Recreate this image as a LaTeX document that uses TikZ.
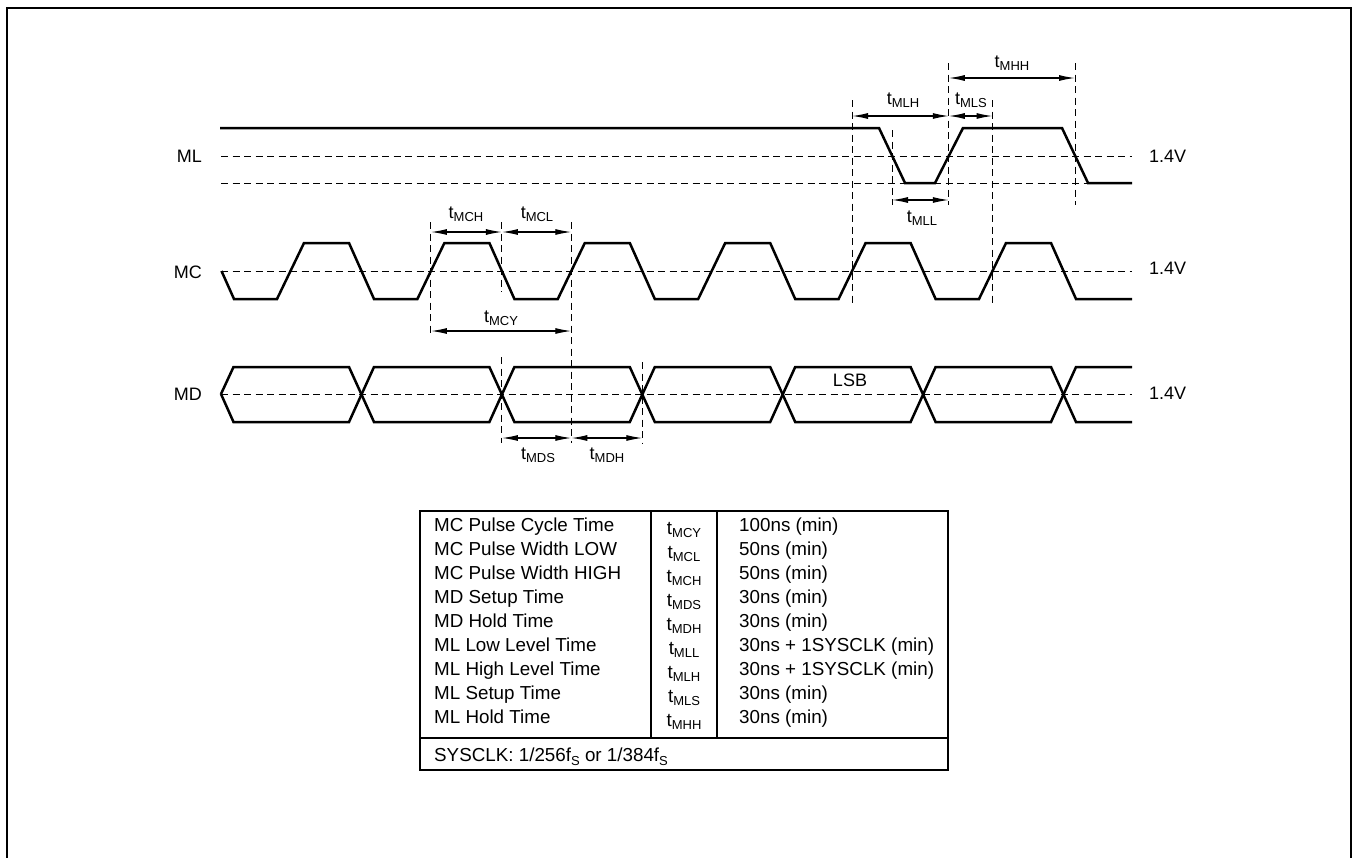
\documentclass[tikz,border=0pt]{standalone}
\usepackage{fontspec}
\setmainfont{Liberation Sans}
\usetikzlibrary{arrows.meta}
\newcommand\tlab[1]{t\raisebox{-3.5pt}{\fontsize{13}{13}\selectfont #1}}
\newcommand\fsub[1]{\raisebox{-3.5pt}{\fontsize{13}{13}\selectfont #1}}
\begin{document}
\begin{tikzpicture}[x=1pt,y=-1pt,
  wave/.style={line width=2.5pt,line join=miter},
  guide/.style={line width=0.9pt,dash pattern=on 7pt off 4.5pt},
  dim/.style={line width=1.2pt,{Latex[length=16pt,width=6pt]}-{Latex[length=16pt,width=6pt]}},
  lbl/.style={font=\fontsize{18}{18}\selectfont,inner sep=0pt},
  tbl/.style={font=\fontsize{18.8}{18.8}\selectfont,inner sep=0pt},
  framebox/.style={line width=2.8pt},
  tline/.style={line width=2.6pt},
  cline/.style={line width=1.6pt}]
\useasboundingbox (0,0) rectangle (1357,857);
% outer frame (open at the bottom)
\draw[framebox] (7,870) -- (7,8) -- (1351,8) -- (1351,870);

% horizontal reference levels
\foreach \yy in {156,183,271,394} \draw[guide] (221,\yy) -- (1132,\yy);

% vertical guides
\draw[guide] (430.9,222) -- (430.9,337);
\draw[guide] (501.9,222) -- (501.9,292);
\draw[guide] (501.9,357) -- (501.9,443);
\draw[guide] (571.3,222) -- (571.3,443);
\draw[guide] (642.3,362) -- (642.3,443);
\draw[guide] (852,100) -- (852,307);
\draw[guide] (892,130) -- (892,205);
\draw[guide] (948.8,63) -- (948.8,205);
\draw[guide] (992.5,100) -- (992.5,307);
\draw[guide] (1075,63) -- (1075,205);

% ML
\draw[wave] (220,128) -- (879,128) -- (905,183) -- (935,183) -- (963,128) -- (1062,128) -- (1088,183) -- (1132,183);
% MC
\draw[wave] (221.5,271) -- (234,299) -- (277,299) -- (304,243) -- (349,243) -- (374,299)
  -- (417.4,299) -- (444.4,243) -- (489.4,243) -- (514.4,299)
  -- (557.8,299) -- (584.8,243) -- (629.8,243) -- (654.8,299)
  -- (698.2,299) -- (725.2,243) -- (770.2,243) -- (795.2,299)
  -- (838.6,299) -- (865.6,243) -- (910.6,243) -- (935.6,299)
  -- (979,299) -- (1006,243) -- (1051,243) -- (1076,299) -- (1132,299);
% MD
\draw[wave] (221,394) -- (233.5,367) -- (349,367) -- (374,422) -- (489.4,422) -- (514.4,367)
  -- (629.8,367) -- (654.8,422) -- (770.2,422) -- (795.2,367) -- (910.6,367) -- (935.6,422)
  -- (1051,422) -- (1076,367) -- (1132,367);
\draw[wave] (221,394) -- (233.5,422) -- (349,422) -- (374,367) -- (489.4,367) -- (514.4,422)
  -- (629.8,422) -- (654.8,367) -- (770.2,367) -- (795.2,422) -- (910.6,422) -- (935.6,367)
  -- (1051,367) -- (1076,422) -- (1132,422);

% signal names and levels
\node[lbl,anchor=base east] (nML) at (202,162.5) {ML};
\node[lbl,anchor=base east] (nMC) at (202,278.5) {MC};
\node[lbl,anchor=base east] (nMD) at (202,400.5) {MD};
\node[lbl,anchor=base west] (v1) at (1149,162.5) {1.4V};
\node[lbl,anchor=base west] (v2) at (1149,274.5) {1.4V};
\node[lbl,anchor=base west] (v3) at (1149,399.5) {1.4V};
\node[lbl,anchor=base] (lsb) at (850,386.5) {LSB};

% dimension end points
\coordinate (mch1) at (430.9,232); \coordinate (mch2) at (501.9,232);
\coordinate (mcl2) at (571.3,232);
\coordinate (mcy1) at (430.9,331); \coordinate (mcy2) at (571.3,331);
\coordinate (mds1) at (501.9,438); \coordinate (mds2) at (571.3,438); \coordinate (mdh2) at (642.3,438);
\coordinate (mlh1) at (852,116); \coordinate (mlh2) at (948.8,116); \coordinate (mls2) at (992.5,116);
\coordinate (mhh1) at (948.8,78); \coordinate (mhh2) at (1075,78);
\coordinate (mll1) at (892,200); \coordinate (mll2) at (948.8,200);

\draw[dim] (mch1) -- (mch2);
\draw[dim] (mch2) -- (mcl2);
\draw[dim] (mcy1) -- (mcy2);
\draw[dim] (mds1) -- (mds2);
\draw[dim] (mds2) -- (mdh2);
\draw[dim] (mlh1) -- (mlh2);
\draw[dim] (mlh2) -- (mls2);
\draw[dim] (mhh1) -- (mhh2);
\draw[dim] (mll1) -- (mll2);

\node[lbl,anchor=base] (tMCH) at (466,218.3) {\tlab{MCH}};
\node[lbl,anchor=base] (tMCL) at (537,218.3) {\tlab{MCL}};
\node[lbl,anchor=base] (tMCY) at (501,322.3) {\tlab{MCY}};
\node[lbl,anchor=base] (tMDS) at (538,459.3) {\tlab{MDS}};
\node[lbl,anchor=base] (tMDH) at (607,459.3) {\tlab{MDH}};
\node[lbl,anchor=base] (tMLH) at (903,104.3) {\tlab{MLH}};
\node[lbl,anchor=base] (tMLS) at (971,104.3) {\tlab{MLS}};
\node[lbl,anchor=base] (tMHH) at (1012,67.3) {\tlab{MHH}};
\node[lbl,anchor=base] (tMLL) at (922,222.3) {\tlab{MLL}};

% table
\draw[tline] (420,511) rectangle (948,770);
\draw[tline] (420,738) -- (948,738);
\draw[cline] (651,511) -- (651,738);
\draw[cline] (717,511) -- (717,738);
\foreach \i/\a/\b/\c in {0/{MC Pulse Cycle Time}/MCY/{100ns (min)},
  1/{MC Pulse Width LOW}/MCL/{50ns (min)},
  2/{MC Pulse Width HIGH}/MCH/{50ns (min)},
  3/{MD Setup Time}/MDS/{30ns (min)},
  4/{MD Hold Time}/MDH/{30ns (min)},
  5/{ML Low Level Time}/MLL/{30ns + 1SYSCLK (min)},
  6/{ML High Level Time}/MLH/{30ns + 1SYSCLK (min)},
  7/{ML Setup Time}/MLS/{30ns (min)},
  8/{ML Hold Time}/MHH/{30ns (min)}} {
  \node[tbl,anchor=base west] (d\i) at (434,531.5+24*\i) {\a};
  \node[tbl,anchor=base] (s\i) at (684,534+24*\i) {\tlab{\b}};
  \node[tbl,anchor=base west] (w\i) at (739,531.5+24*\i) {\c};
}
\node[tbl,anchor=base west] (sys) at (434,761.5) {SYSCLK: 1/256f\fsub{S} or 1/384f\fsub{S}};
\end{tikzpicture}
\end{document}
